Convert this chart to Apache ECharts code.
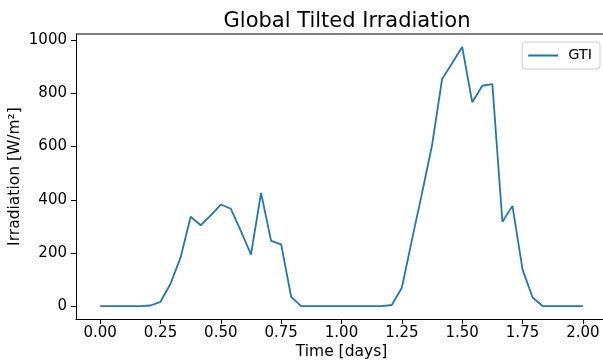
<!DOCTYPE html>
<html>
<head>
<meta charset="utf-8">
<script src="https://cdn.jsdelivr.net/npm/echarts@6/dist/echarts.min.js"></script>
<style>
  html, body { margin: 0; padding: 0; background: #fff; }
  #chart { width: 603px; height: 360px; }
</style>
</head>
<body>
<div id="chart"></div>
<script>
// Hourly global tilted irradiation over two days (W/m²)
const hoursPerDay = 24;
const gti = [
  0, 0, 0, 0, 0, 2, 16, 84, 183, 336, 304, 341,
  382, 366, 282, 194, 426, 245, 232, 34, 0, 0, 0, 0,
  0, 0, 0, 0, 0, 4, 69, 248, 424, 604, 854, 914,
  975, 767, 829, 835, 317, 377, 138, 32, 0, 0, 0, 0,
  0
];
const xTicks = [0, 0.25, 0.5, 0.75, 1.0, 1.25, 1.5, 1.75, 2.0];
const yTicks = [0, 200, 400, 600, 800, 1000];

const points = gti.map((v, i) => [i / hoursPerDay, v]);

const font = 'DejaVu Sans';
const chart = echarts.init(document.getElementById('chart'), null, { renderer: 'canvas' });

chart.setOption({
  animation: false,
  backgroundColor: '#ffffff',
  title: {
    text: 'Global Tilted Irradiation',
    left: 342, top: 6, textAlign: 'center',
    textStyle: { fontFamily: font, fontSize: 21, fontWeight: 'normal', color: '#000' }
  },
  legend: {
    right: 3, top: 42,
    padding: [6, 8, 6, 6],
    itemWidth: 30, itemHeight: 2, itemGap: 4,
    borderColor: '#cccccc', borderWidth: 1, borderRadius: 3,
    backgroundColor: '#fff',
    textStyle: { fontFamily: font, fontSize: 14.5, color: '#000', padding: [0, 0, 0, 5] },
    data: [{ name: 'GTI', icon: 'rect' }]
  },
  grid: { left: 76, right: -4, top: 34, bottom: 41, outerBoundsMode: 'none', containLabel: false },
  xAxis: {
    type: 'value',
    min: -0.1, max: 2.1,
    name: 'Time [days]',
    nameLocation: 'middle', nameGap: 25, nameMoveOverlap: false,
    nameTextStyle: { fontFamily: font, fontSize: 15.5, color: '#000' },
    axisLine: { onZero: false, lineStyle: { color: '#000', width: 1 } },
    axisTick: { show: true, length: 5, customValues: xTicks, lineStyle: { color: '#000' } },
    axisLabel: {
      customValues: xTicks, margin: 7,
      fontFamily: font, fontSize: 15, color: '#000',
      formatter: v => v.toFixed(2)
    },
    splitLine: { show: false }
  },
  yAxis: {
    type: 'value',
    min: -48.75, max: 1023.75,
    name: 'Irradiation [W/m²]',
    nameLocation: 'middle', nameGap: 53, nameRotate: 90, nameMoveOverlap: false,
    nameTextStyle: { fontFamily: font, fontSize: 15.5, color: '#000' },
    axisLine: { show: true, onZero: false, lineStyle: { color: '#000', width: 1 } },
    axisTick: { show: true, length: 5, customValues: yTicks, lineStyle: { color: '#000' } },
    axisLabel: {
      customValues: yTicks, margin: 9,
      fontFamily: font, fontSize: 15, color: '#000',
      formatter: v => String(Math.round(v))
    },
    splitLine: { show: false }
  },
  series: [{
    name: 'GTI',
    type: 'line',
    data: points,
    showSymbol: false,
    lineStyle: { color: '#1f77b4', width: 1.8 },
    itemStyle: { color: '#1f77b4' }
  }],
  graphic: [{
    // top border of the plot frame
    type: 'line',
    shape: { x1: 76, y1: 34, x2: 603, y2: 34 },
    style: { stroke: '#000', lineWidth: 1 }
  }]
});
</script>
</body>
</html>
